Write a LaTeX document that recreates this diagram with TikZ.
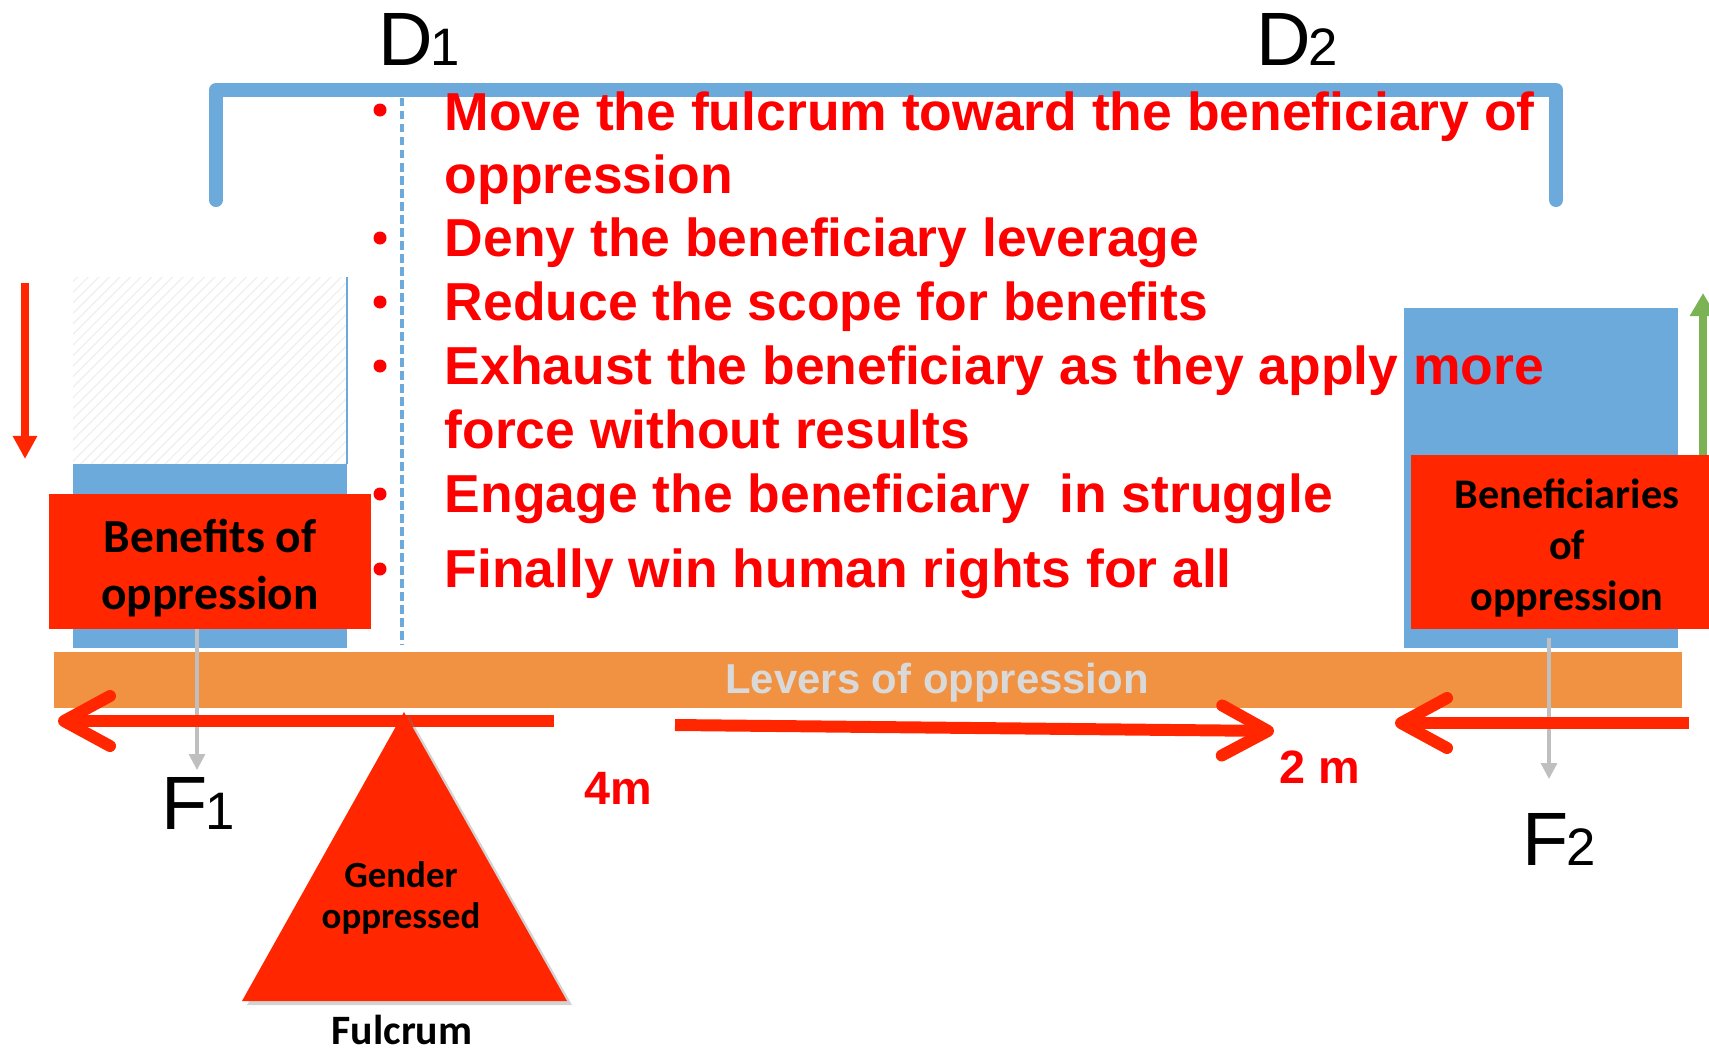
\documentclass[tikz,border=0pt]{standalone}
\usepackage{fontspec}
\setmainfont{Liberation Sans}
\newfontfamily\calibri{Carlito}
\usetikzlibrary{arrows.meta,patterns}

\definecolor{barblue}{RGB}{107,170,219}
\definecolor{leverorange}{RGB}{241,146,66}
\definecolor{boxred}{RGB}{255,38,0}
\definecolor{textred}{RGB}{255,0,0}
\definecolor{leafgreen}{RGB}{122,178,84}
\definecolor{pointgray}{RGB}{191,191,191}
\definecolor{levergray}{RGB}{217,217,217}

\newcommand\subnum[1]{\kern-0.8pt{\fontsize{15}{15}\selectfont #1}}

\tikzset{
  pointtext/.style={anchor=base west, inner sep=0pt, text=textred,
    font=\fontsize{15.2}{18}\selectfont\bfseries},
  pointdot/.style={circle, fill=textred, inner sep=0pt, minimum size=1.3mm},
  symlabel/.style={anchor=base west, inner sep=0pt, font=\fontsize{21.5}{22}\selectfont},
  redbox/.style={rectangle, fill=boxred, inner sep=0pt},
  boxtext/.style={align=center, inner sep=0pt},
  bigarrow/.style={boxred, line width=3.4pt,
    -{Straight Barb[length=4.6mm, width=5mm, round]}},
  pointer/.style={pointgray, line width=0.9pt, -{Triangle[length=1.6mm, width=1.6mm]}},
  distlabel/.style={anchor=base, inner sep=0pt, text=textred,
    font=\fontsize{13.3}{14}\selectfont\bfseries}
}

\begin{document}
\begin{tikzpicture}[x=0.01cm, y=-0.01cm]
  \useasboundingbox (0,0) rectangle (1709,1051);

  % Bracket over both distances
  \coordinate (brl) at (216,200);
  \coordinate (btl) at (216,90);
  \coordinate (btr) at (1556,90);
  \coordinate (brr) at (1556,200);
  \draw[barblue, line width=4pt, line cap=round, line join=round]
    (brl) -- (btl) -- (btr) -- (brr);

  % Distance symbols
  \node[symlabel] (d1) at (378,65) {D\subnum{1}};
  \node[symlabel] (d2) at (1256,65) {D\subnum{2}};

  % Line through the fulcrum
  \coordinate (ftop) at (402,98);
  \coordinate (fbot) at (402,645);
  \draw[barblue, line width=0.9pt, dash pattern=on 2.4pt off 1.3pt] (ftop) -- (fbot);

  % Weights on the lever
  \fill[pattern=north east lines, pattern color=gray!12] (73,277) rectangle (347,464);
  \draw[barblue, line width=0.4pt] (347,277) -- (347,464);
  \fill[barblue] (73,464) rectangle (347,648);
  \fill[barblue] (1404,308) rectangle (1678,648);

  % Movement arrows
  \coordinate (dntop) at (25,283);
  \coordinate (dnend) at (25,459);
  \draw[boxred, line width=2pt, -{Triangle[length=2.3mm, width=2.3mm]}] (dntop) -- (dnend);
  \coordinate (upbot) at (1703,470);
  \coordinate (upend) at (1703,293);
  \draw[leafgreen, line width=2.2pt, -{Triangle[length=2.3mm, width=2.5mm]}] (upbot) -- (upend);

  % Strategy points
  \node[pointtext] (p1) at (444,130) {Move the fulcrum toward the beneficiary of};
  \node[pointtext] (p1b) at (444,193) {oppression};
  \node[pointtext] (p2) at (444,256) {Deny the beneficiary leverage};
  \node[pointtext] (p3) at (444,320) {Reduce the scope for benefits};
  \node[pointtext] (p4) at (444,384) {Exhaust the beneficiary as they apply more};
  \node[pointtext] (p4b) at (444,448) {force without results};
  \node[pointtext] (p5) at (444,512) {Engage the beneficiary\ \ in struggle};
  \node[pointtext] (p6) at (444,587) {Finally win human rights for all};
  \foreach \y in {110,238,302,366,494,569}
    \node[pointdot] at (380,\y) {};

  % Lever
  \fill[leverorange] (54,652) rectangle (1682,708);
  \node[anchor=base, inner sep=0pt, text=levergray, font=\fontsize{11.9}{12}\selectfont\bfseries]
    (lever) at (937,693) {Levers of oppression};

  % Loads
  \node[redbox, minimum width=3.22cm, minimum height=1.35cm] (benefits) at (210,561.5) {};
  \node[boxtext, font=\calibri\bfseries\fontsize{13.5}{16.2}\selectfont] (benefitstxt)
    at (210,568) {Benefits of\\oppression};
  \node[redbox, minimum width=2.98cm, minimum height=1.74cm] (beneficiaries) at (1560,542) {};
  \node[boxtext, font=\calibri\bfseries\fontsize{12}{14.5}\selectfont] (beneficiariestxt)
    at (1567,548) {Beneficiaries\\of\\oppression};

  % Forces
  \coordinate (f1top) at (197,629);
  \coordinate (f1end) at (197,770);
  \draw[pointer] (f1top) -- (f1end);
  \coordinate (f2top) at (1549,638);
  \coordinate (f2end) at (1549,779);
  \draw[pointer] (f2top) -- (f2end);
  \node[symlabel] (f1) at (161,829) {F\subnum{1}};
  \node[symlabel] (f2) at (1522,865) {F\subnum{2}};

  % Distance arrows
  \coordinate (la) at (554,721);
  \coordinate (lb) at (58,721);
  \draw[bigarrow] (la) -- (lb);
  \coordinate (ma) at (675,725);
  \coordinate (mb) at (1274,731);
  \draw[bigarrow] (ma) -- (mb);
  \coordinate (ra) at (1689,723);
  \coordinate (rb) at (1395,723);
  \draw[bigarrow] (ra) -- (rb);
  \node[distlabel] (four) at (618,804) {4m};
  \node[distlabel] (two) at (1320,783) {2 m};

  % Fulcrum
  \coordinate (apex) at (404,712);
  \coordinate (baser) at (567,1001);
  \coordinate (basel) at (242,1001);
  \fill[gray, opacity=0.35] ([shift={(5,4)}]apex) -- ([shift={(5,4)}]baser)
    -- ([shift={(5,4)}]basel) -- cycle;
  \fill[boxred] (apex) -- (baser) -- (basel) -- cycle;
  \node[boxtext, font=\calibri\bfseries\fontsize{10.5}{11.7}\selectfont] (gender)
    at (401,898) {Gender\\oppressed};
  \node[anchor=base, inner sep=0pt, font=\calibri\bfseries\fontsize{11.9}{12}\selectfont]
    (fulcrum) at (402,1044) {Fulcrum};
\end{tikzpicture}
\end{document}
